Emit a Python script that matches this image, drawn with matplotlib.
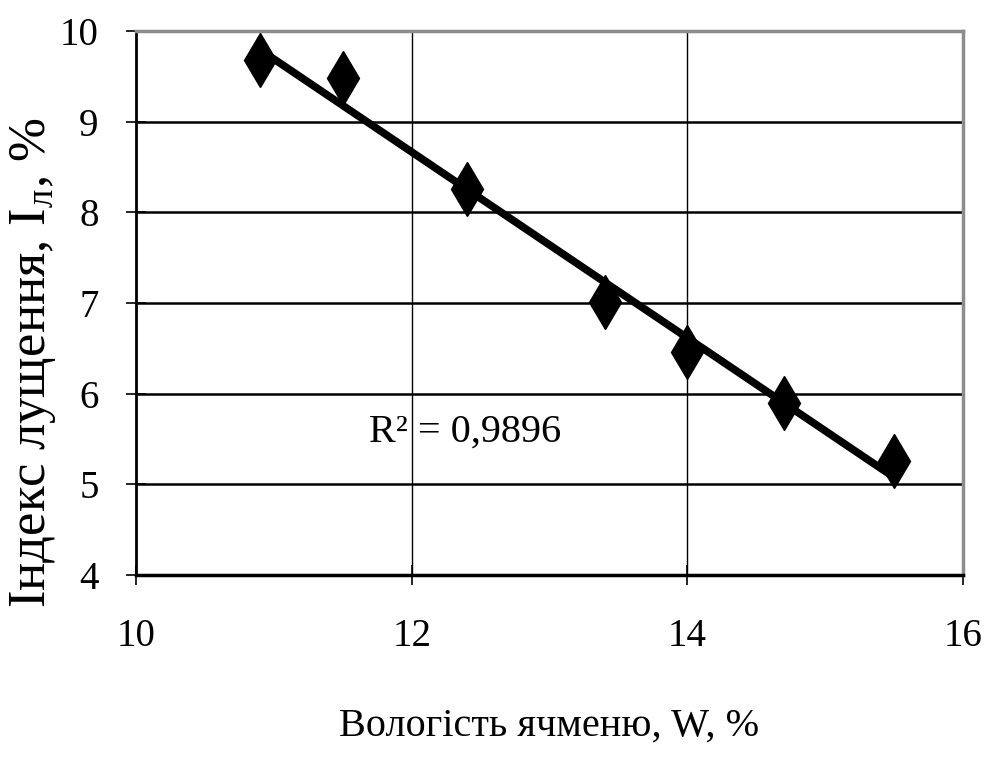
import numpy as np
import matplotlib.pyplot as plt

# дані: вологість ячменю та індекс лущення
moisture = [10.9, 11.5, 12.4, 13.4, 14.0, 14.7, 15.5]
index_l = [9.68, 9.48, 8.26, 7.01, 6.46, 5.90, 5.26]
x_ticks = [10, 12, 14, 16]
y_ticks = [4, 5, 6, 7, 8, 9, 10]

plt.rcParams['font.family'] = ['Liberation Serif', 'DejaVu Serif']

fig = plt.figure(figsize=(9.87, 7.62), dpi=100)
ax = fig.add_axes([0.1378, 0.2454, 0.8379, 0.7139])

# лінійний тренд
k, b = np.polyfit(moisture, index_l, 1)

ax.plot(moisture, index_l, linestyle='none', marker='d', markersize=27,
        color='black', zorder=3)
xs = np.array([moisture[0], moisture[-1]])
ax.plot(xs, k * xs + b, color='black', linewidth=5.5, zorder=4,
        solid_capstyle='butt')

ax.set_xlim(10, 16)
ax.set_ylim(4, 10)
ax.set_xticks(x_ticks)
ax.set_yticks(y_ticks)

# сітка
for yv in y_ticks[1:-1]:
    ax.axhline(yv, color='black', linewidth=1.8, zorder=1)
for xv in x_ticks[1:-1]:
    ax.axvline(xv, color='black', linewidth=1.0, zorder=1)

for side in ['top', 'right']:
    ax.spines[side].set_color('#8c8c8c')
    ax.spines[side].set_linewidth(2.5)
ax.spines['left'].set_linewidth(2.0)
ax.spines['bottom'].set_linewidth(2.5)

ax.tick_params(axis='both', direction='inout', length=14, width=1.2,
               labelsize=28, colors='black')
ax.tick_params(axis='x', pad=24)
ax.tick_params(axis='y', pad=20)

ax.text(12.39, 5.58, 'R² = 0,9896', fontsize=29, ha='center', va='center',
        zorder=2)

ax.set_xlabel('Вологість ячменю, W, %', fontsize=29, labelpad=38)
ax.set_ylabel('Індекс лущення, І$_{\\mathregular{л}}$, %', fontsize=38)
ax.yaxis.set_label_coords(-0.094, 0.39)

fig.savefig('out.png', dpi=100)
